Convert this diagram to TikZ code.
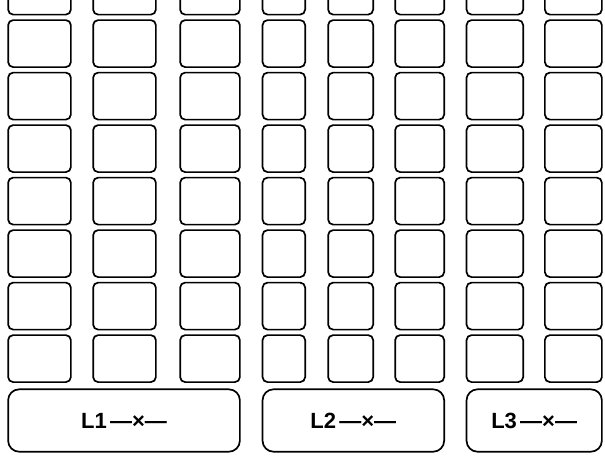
\documentclass[tikz,border=0pt]{standalone}
\usepackage{fontspec}
\setmainfont{Liberation Sans}
\begin{document}
\begin{tikzpicture}[x=1pt,y=-1pt,
  cell/.style={draw, line width=1.7pt, rounded corners=5pt, inner sep=0pt, minimum height=47pt},
  layer/.style={draw, line width=1.7pt, rounded corners=11pt, inner sep=0pt, minimum height=62.4pt,
    font=\bfseries\fontsize{22}{25}\selectfont}]
\useasboundingbox (0,0) rectangle (605,456);
\clip (0,0) rectangle (605,456);
\foreach \n/\l/\r in {1/7.3/71.7, 2/92.3/156.7, 3/179.3/240.7, 4/261.7/306, 5/327.3/374, 6/394.3/445, 7/465.7/524, 8/544/602.7}{
  \foreach \k in {-1,0,...,6}{
    \node[cell, minimum width={\r-\l-1.7}] (c\n-\k) at ({(\l+\r)/2}, {43.6+52.5*\k}) {};
  }
}
\node[layer, minimum width={240.7-7.3-1.7}] (l1) at ({(7.3+240.7)/2}, 420.5) {L1\hspace{0.15em}—×—};
\node[layer, minimum width={445-261.7-1.7}] (l2) at ({(261.7+445)/2}, 420.5) {L2\hspace{0.15em}—×—};
\node[layer, minimum width={602.7-465.7-1.7}] (l3) at ({(465.7+602.7)/2}, 420.5) {L3\hspace{0.15em}—×—};
\end{tikzpicture}
\end{document}
